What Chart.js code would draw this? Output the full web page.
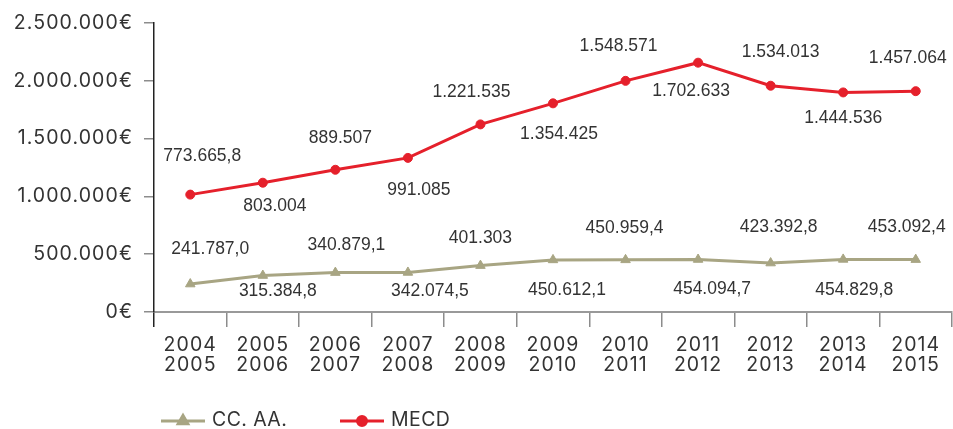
<!DOCTYPE html>
<html>
<head>
  <title>Financiación CC. AA. y MECD</title>
  <meta charset="UTF-8">
  <script src="https://cdn.jsdelivr.net/npm/chart.js"></script>
  <style>
    html, body { margin: 0; padding: 0; background: #fff; }
    #wrap { width: 953px; height: 429px; position: relative; }
  </style>
  <script>
// cursos escolares
var cursos = [
  ['2004', '2005'], ['2005', '2006'], ['2006', '2007'], ['2007', '2008'],
  ['2008', '2009'], ['2009', '2010'], ['2010', '2011'], ['2011', '2012'],
  ['2012', '2013'], ['2013', '2014'], ['2014', '2015']
];

// aportación de las comunidades autónomas (€)
var ccaa = [241787.0, 315384.8, 340879.1, 342074.5, 401303, 450612.1,
            450959.4, 454094.7, 423392.8, 454829.8, 453092.4];
var ccaaDecimales = [1, 1, 1, 1, 0, 1, 1, 1, 1, 1, 1];

// aportación del ministerio (€), se apila sobre la de las CC. AA.
var mecd = [773665.8, 803004, 889507, 991085, 1221535, 1354425,
            1548571, 1702633, 1534013, 1444536, 1457064];
var mecdDecimales = [1, 0, 0, 0, 0, 0, 0, 0, 0, 0, 0];

// eje vertical
var ejeMin = 0;
var ejeMax = 2500000;
var ejePaso = 500000;

// desplazamiento de cada etiqueta respecto a su punto (px)
var ccaaEtiquetaPos = [[20, -35], [15, 16], [11, -27], [22, 19], [0, -27], [14, 30],
                       [-1, -32], [14, 30], [8, -36], [11, 31], [-9, -32]];
var mecdEtiquetaPos = [[12, -38], [12, 23], [5, -32], [11, 32], [-9, -32], [6, 31],
                       [-7, -35], [-7, 28], [10, -34], [0, 26], [-8, -33]];

var colorCCAA = '#a8a583';
var colorMECD = '#e5202b';
var fuenteEjes = 'Inter';

function formato(v, dec) {
  var partes = v.toFixed(dec).split('.');
  var entero = partes[0].replace(/\B(?=(\d{3})+(?!\d))/g, '.');
  return partes.length > 1 ? entero + ',' + partes[1] : entero;
}

// las fuentes de los ejes van algo espaciadas
var espaciado = {
  id: 'espaciado',
  beforeDraw: function (chart) {
    chart.ctx.letterSpacing = '1.1px';
  }
};

// valores de cada serie junto a sus puntos
var etiquetas = {
  id: 'etiquetas',
  afterDatasetsDraw: function (chart) {
    var ctx = chart.ctx;
    ctx.save();
    ctx.letterSpacing = '0px';
    ctx.font = '17.5px "Liberation Sans"';
    ctx.fillStyle = '#333';
    ctx.textAlign = 'center';
    ctx.textBaseline = 'middle';
    chart.data.datasets.forEach(function (ds, i) {
      var meta = chart.getDatasetMeta(i);
      meta.data.forEach(function (pt, j) {
        var d = ds.etiquetaPos[j];
        ctx.fillText(formato(ds.data[j], ds.decimales[j]), pt.x + d[0], pt.y + d[1]);
      });
    });
    ctx.restore();
  }
};

// leyenda con línea y marcador
var leyenda = {
  id: 'leyenda',
  afterDraw: function (chart) {
    var ctx = chart.ctx;
    var y = 421;
    var inicio = [161, 340];
    ctx.save();
    ctx.letterSpacing = '0.4px';
    chart.data.datasets.forEach(function (ds, i) {
      var x = inicio[i];
      ctx.strokeStyle = ds.borderColor;
      ctx.lineWidth = 3;
      ctx.beginPath();
      ctx.moveTo(x, y);
      ctx.lineTo(x + 44, y);
      ctx.stroke();
      ctx.fillStyle = ds.borderColor;
      Chart.helpers.drawPoint(ctx, {
        pointStyle: ds.pointStyle,
        radius: ds.pointRadius,
        rotation: 0,
        borderWidth: 1
      }, x + 22, y);
      ctx.fill();
      ctx.fillStyle = '#333';
      ctx.font = '19.5px "' + fuenteEjes + '"';
      ctx.textAlign = 'left';
      ctx.textBaseline = 'middle';
      ctx.fillText(ds.label, x + 51, y - 1);
    });
    ctx.restore();
  }
};

function dibujar() {
  var ctx = document.getElementById('chart').getContext('2d');
  new Chart(ctx, {
    type: 'line',
    data: {
      labels: cursos,
      datasets: [{
        label: 'CC. AA.',
        data: ccaa,
        decimales: ccaaDecimales,
        etiquetaPos: ccaaEtiquetaPos,
        borderColor: colorCCAA,
        backgroundColor: colorCCAA,
        pointBackgroundColor: colorCCAA,
        pointBorderColor: colorCCAA,
        borderWidth: 3,
        pointStyle: 'triangle',
        pointRadius: 5.5,
        pointBorderWidth: 1,
        fill: false,
        tension: 0
      }, {
        label: 'MECD',
        data: mecd,
        decimales: mecdDecimales,
        etiquetaPos: mecdEtiquetaPos,
        borderColor: colorMECD,
        backgroundColor: colorMECD,
        pointBackgroundColor: colorMECD,
        pointBorderColor: colorMECD,
        borderWidth: 3,
        pointStyle: 'circle',
        pointRadius: 4.5,
        pointBorderWidth: 1,
        fill: false,
        tension: 0
      }]
    },
    options: {
      responsive: true,
      maintainAspectRatio: false,
      animation: false,
      layout: {
        autoPadding: false,
        padding: { top: 23, right: 1, left: 0, bottom: 0 }
      },
      plugins: {
        legend: { display: false },
        tooltip: { enabled: false }
      },
      scales: {
        x: {
          offset: true,
          grid: {
            offset: true,
            drawOnChartArea: false,
            drawTicks: true,
            tickLength: 15,
            lineWidth: 1.5,
            color: function (c) { return c.index === 0 ? '#222' : '#8c8c8c'; }
          },
          border: { color: '#999', width: 2 },
          ticks: {
            color: '#333',
            font: { family: fuenteEjes, size: 19.5, lineHeight: '20px' },
            padding: 8,
            maxRotation: 0,
            autoSkip: false
          },
          afterFit: function (s) {
            s.height = 117;
            s.paddingLeft = 0;
            s.paddingRight = 0;
          }
        },
        y: {
          stacked: true,
          min: ejeMin,
          max: ejeMax,
          grid: {
            drawOnChartArea: false,
            tickLength: 10,
            lineWidth: 1.5,
            color: '#8c8c8c'
          },
          border: { color: '#222', width: 1.5 },
          ticks: {
            stepSize: ejePaso,
            color: '#333',
            font: { family: fuenteEjes, size: 19.5 },
            padding: 11,
            callback: function (v) { return formato(v, 0) + '€'; }
          },
          afterFit: function (s) { s.width = 154; }
        }
      }
    },
    plugins: [espaciado, etiquetas, leyenda]
  });
}
  </script>
</head>
<body>
  <div id="wrap"><canvas id="chart"></canvas></div>
  <script>
    dibujar();
  </script>
</body>
</html>
